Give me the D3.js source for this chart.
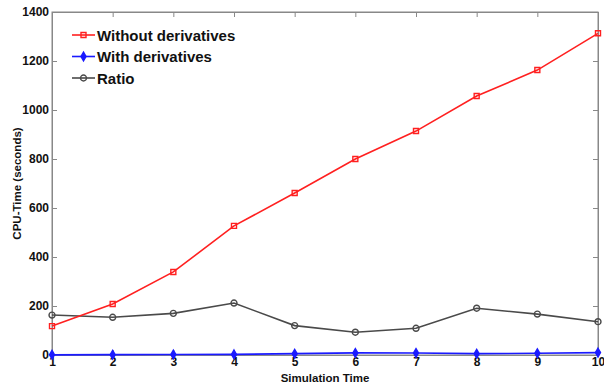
<!DOCTYPE html>
<html><head><meta charset="utf-8">
<script src="https://cdn.jsdelivr.net/npm/d3@7"></script>
<style>body{margin:0;background:#fff;} text{font-family:"Liberation Sans",Arial,sans-serif;font-weight:bold;}</style>
</head><body>
<svg id="c" width="604" height="384"></svg>
<script>
const simTime = [1,2,3,4,5,6,7,8,9,10];
const withoutDeriv = [118,208,339,527,661,800,914,1057,1163,1313];
const withDeriv = [0.7,1.4,2.0,2.5,5.5,8.6,8.4,5.5,7.0,9.7];
const ratio = [163,154,170,212,120,93,109,191,167,136];
const yTicks = [0,200,400,600,800,1000,1200,1400];
const seriesNames = ["Without derivatives","With derivatives","Ratio"];

const svg = d3.select("#c");
const L=52, R=598, T=12, B=355;
const x = d3.scaleLinear().domain([1,10]).range([L,R]);
const y = d3.scaleLinear().domain([0,1400]).range([B,T]);

svg.append("rect").attr("x",L).attr("y",T).attr("width",R-L).attr("height",B-T)
  .attr("fill","none").attr("stroke","#888").attr("stroke-width",1);

const ax = svg.append("g").attr("transform",`translate(0,${B})`)
  .call(d3.axisBottom(x).tickValues(simTime).tickFormat(d3.format("d")).tickSizeInner(-5).tickSizeOuter(0).tickPadding(4));
const ay = svg.append("g").attr("transform",`translate(${L},0)`)
  .call(d3.axisLeft(y).tickValues(yTicks).tickFormat(d3.format("d")).tickSizeInner(-5).tickSizeOuter(0).tickPadding(3));
svg.append("g").attr("transform",`translate(0,${T})`)
  .call(d3.axisTop(x).tickValues(simTime).tickFormat("").tickSizeInner(-5).tickSizeOuter(0));
svg.append("g").attr("transform",`translate(${R},0)`)
  .call(d3.axisRight(y).tickValues(yTicks).tickFormat("").tickSizeInner(-5).tickSizeOuter(0));
svg.selectAll(".domain").attr("stroke","#888");
svg.selectAll(".tick line").attr("stroke","#888");
svg.selectAll(".tick text").attr("font-size",12).attr("font-weight","bold").attr("fill","#111")
  .attr("font-family","Liberation Sans, Arial, sans-serif");
ax.selectAll(".tick text").attr("dy","0.6em");

svg.append("text").attr("x",(L+R)/2).attr("y",382).attr("text-anchor","middle")
  .attr("font-size",11.5).attr("fill","#111").text("Simulation Time");
svg.append("text").attr("transform",`translate(21,${(T+B)/2}) rotate(-90)`).attr("text-anchor","middle")
  .attr("font-size",11.5).attr("fill","#111").text("CPU-Time (seconds)");

const line = d3.line().x((d,i)=>x(simTime[i])).y(d=>y(d));
const sq = d3.symbol().type(d3.symbolSquare).size(25);
const dm = d3.symbol().type(d3.symbolDiamond).size(22);
const ci = d3.symbol().type(d3.symbolCircle).size(28);

function drawSeries(data,color,sym,fill){
  svg.append("path").datum(data).attr("d",line).attr("fill","none").attr("stroke",color).attr("stroke-width",1.6);
  svg.selectAll(null).data(data).enter().append("path")
    .attr("d",sym).attr("transform",(d,i)=>`translate(${x(simTime[i])},${y(d)})`)
    .attr("fill",fill).attr("stroke",color).attr("stroke-width",1.4);
}
drawSeries(ratio,"#4a4a4a",ci,"none");
drawSeries(withoutDeriv,"#ff2020",sq,"none");
drawSeries(withDeriv,"#1a1aff",dm,"#1a1aff");

const leg = [{c:"#ff2020",s:sq,f:"none"},{c:"#1a1aff",s:dm,f:"#1a1aff"},{c:"#4a4a4a",s:ci,f:"none"}];
leg.forEach((l,i)=>{
  const yy = 35 + i*21.5;
  svg.append("line").attr("x1",72).attr("x2",95).attr("y1",yy).attr("y2",yy).attr("stroke",l.c).attr("stroke-width",1.6);
  svg.append("path").attr("d",l.s).attr("transform",`translate(83.5,${yy})`).attr("fill",l.f).attr("stroke",l.c).attr("stroke-width",1.4);
  svg.append("text").attr("x",97).attr("y",yy+5.5).attr("font-size",15).attr("fill","#111").text(seriesNames[i]);
});
</script>
</body></html>
